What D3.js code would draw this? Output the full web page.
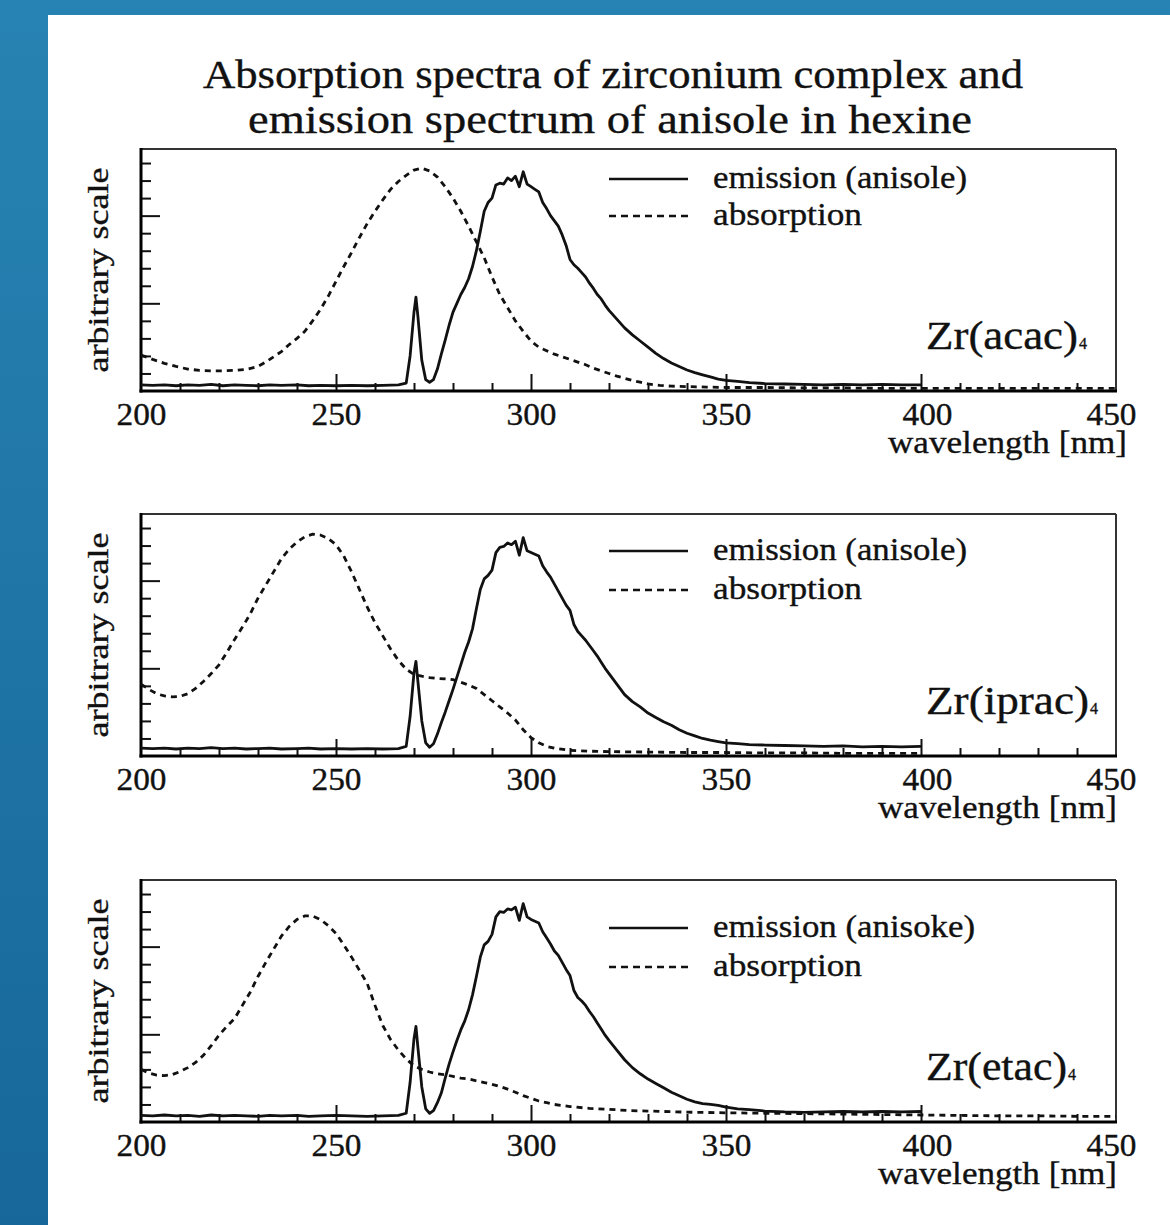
<!DOCTYPE html>
<html>
<head>
<meta charset="utf-8">
<script src="https://cdn.jsdelivr.net/npm/d3@7"></script>
<style>
  html, body { margin: 0; padding: 0; }
  body { width: 1170px; height: 1225px; overflow: hidden; }
  svg { display: block; }
  text { font-family: "Liberation Serif", "Times New Roman", serif; fill: #111; stroke: #111; stroke-width: 0.35px; }
</style>
</head>
<body>
<svg id="chart" width="1170" height="1225"></svg>
<script>
// ---- data -------------------------------------------------------------
const titleLines = [
  "Absorption spectra of zirconium complex and",
  "emission spectrum of anisole in hexine"
];
const xTickValues = [200, 250, 300, 350, 400, 450];
const xAxisTitle = "wavelength [nm]";
const yAxisTitle = "arbitrary scale";
const complexNames = ["Zr(acac)", "Zr(iprac)", "Zr(etac)"];
const complexSubscript = "4";
const emissionLabels = ["emission (anisole)", "emission (anisole)", "emission (anisoke)"];
const absorptionLabel = "absorption";

// emission of anisole, [wavelength nm, intensity]
const emissionAcac = [
  [200,0.07],[203,0.065],[206,0.07],[209,0.06],[212,0.07],[215,0.065],[218,0.075],[221,0.06],
  [224,0.07],[227,0.065],[230,0.06],[233,0.07],[236,0.065],[240,0.07],[243,0.06],[246,0.065],
  [250,0.06],[254,0.065],[258,0.06],[262,0.065],[266,0.07],[268,0.09],[269,0.4],[270,0.9],
  [270.5,1.07],[271,0.85],[272,0.35],[273,0.13],[274,0.1],[275,0.13],[276,0.25],[277,0.42],
  [278,0.58],[279,0.75],[280,0.9],[281,1.0],[282,1.1],[283,1.18],[284,1.28],[285,1.42],
  [286,1.6],[287,1.82],[288,2.05],[289,2.15],[290,2.2],[291,2.35],[292,2.37],[293,2.36],
  [294,2.43],[295,2.4],[296,2.45],[297,2.33],[298,2.5],[299,2.36],[300,2.33],[301,2.3],
  [302,2.27],[303,2.15],[304,2.08],[305,2.0],[306,1.94],[307,1.88],[308,1.78],[309,1.66],
  [310,1.5],[311,1.44],[312,1.4],[313,1.35],[314,1.3],[315,1.23],[316,1.17],[317,1.1],
  [318,1.05],[319,0.98],[320,0.92],[322,0.82],[324,0.72],[326,0.64],[328,0.57],[330,0.5],
  [332,0.43],[334,0.37],[336,0.32],[338,0.28],[340,0.24],[342,0.21],[344,0.185],[346,0.16],
  [348,0.135],[350,0.12],[353,0.11],[356,0.095],[360,0.085],[365,0.08],[370,0.075],[375,0.07],
  [380,0.075],[385,0.07],[390,0.075],[395,0.07],[400,0.07]
];
const emissionIprac = [
  [200,0.09],[203,0.085],[206,0.09],[209,0.08],[212,0.09],[215,0.085],[218,0.095],[221,0.085],
  [224,0.09],[227,0.08],[230,0.085],[233,0.09],[236,0.08],[240,0.085],[243,0.09],[246,0.08],
  [250,0.085],[254,0.08],[258,0.085],[262,0.08],[266,0.085],[268,0.11],[269,0.45],[270,0.95],
  [270.5,1.08],[271,0.85],[272,0.4],[273,0.15],[274,0.1],[275,0.14],[276,0.25],[277,0.38],
  [278,0.5],[279,0.63],[280,0.76],[281,0.9],[282,1.04],[283,1.18],[284,1.3],[285,1.45],
  [286,1.68],[287,1.9],[288,2.02],[289,2.06],[290,2.12],[291,2.32],[292,2.38],[293,2.39],
  [294,2.43],[295,2.41],[296,2.45],[297,2.29],[298,2.49],[299,2.34],[300,2.32],[301,2.3],
  [302,2.28],[303,2.17],[304,2.1],[305,2.04],[306,1.96],[307,1.88],[308,1.8],[309,1.72],
  [310,1.66],[311,1.5],[312,1.42],[313,1.37],[314,1.32],[315,1.26],[316,1.2],[317,1.14],
  [318,1.07],[319,1.0],[320,0.94],[322,0.82],[324,0.7],[326,0.62],[328,0.56],[330,0.49],
  [332,0.44],[334,0.39],[336,0.35],[338,0.3],[340,0.26],[342,0.23],[344,0.2],[346,0.18],
  [348,0.165],[350,0.15],[353,0.14],[356,0.13],[360,0.125],[365,0.12],[370,0.115],[375,0.11],
  [380,0.115],[385,0.105],[390,0.11],[395,0.105],[400,0.11]
];
const emissionEtac = [
  [200,0.075],[203,0.07],[206,0.08],[209,0.07],[212,0.075],[215,0.065],[218,0.08],[221,0.07],
  [224,0.075],[227,0.07],[230,0.065],[233,0.075],[236,0.07],[240,0.075],[243,0.065],[246,0.07],
  [250,0.075],[254,0.07],[258,0.065],[262,0.07],[266,0.075],[268,0.1],[269,0.45],[270,0.95],
  [270.5,1.09],[271,0.85],[272,0.4],[273,0.15],[274,0.1],[275,0.13],[276,0.22],[277,0.33],
  [278,0.5],[279,0.66],[280,0.8],[281,0.93],[282,1.05],[283,1.15],[284,1.28],[285,1.45],
  [286,1.66],[287,1.88],[288,2.02],[289,2.06],[290,2.14],[291,2.34],[292,2.4],[293,2.39],
  [294,2.43],[295,2.42],[296,2.45],[297,2.3],[298,2.49],[299,2.34],[300,2.31],[301,2.29],
  [302,2.27],[303,2.17],[304,2.1],[305,2.03],[306,1.95],[307,1.9],[308,1.82],[309,1.74],
  [310,1.67],[311,1.5],[312,1.42],[313,1.38],[314,1.33],[315,1.26],[316,1.2],[317,1.13],
  [318,1.06],[319,0.99],[320,0.93],[322,0.82],[324,0.71],[326,0.62],[328,0.55],[330,0.49],
  [332,0.44],[334,0.39],[336,0.34],[338,0.3],[340,0.26],[342,0.23],[344,0.21],[346,0.2],
  [348,0.19],[350,0.17],[353,0.15],[356,0.14],[360,0.125],[365,0.115],[370,0.11],[375,0.115],
  [380,0.12],[385,0.115],[390,0.12],[395,0.115],[400,0.12]
];

// absorption of the zirconium complexes, [wavelength nm, absorbance]
const absorptionAcac = [
  [200,0.41],[203,0.36],[206,0.316],[209,0.28],[212,0.25],[215,0.235],[218,0.23],[221,0.23],
  [224,0.235],[227,0.245],[230,0.28],[232,0.33],[234,0.39],[236,0.45],[238,0.53],[240,0.6],
  [242,0.68],[244,0.8],[246,0.93],[248,1.08],[250,1.25],[252,1.42],[254,1.58],[256,1.75],
  [258,1.91],[260,2.05],[262,2.18],[264,2.3],[266,2.39],[268,2.46],[270,2.52],[272,2.54],
  [274,2.51],[276,2.44],[278,2.33],[280,2.2],[282,2.05],[284,1.88],[286,1.7],[288,1.52],
  [290,1.3],[292,1.1],[294,0.95],[296,0.8],[298,0.68],[300,0.57],[302,0.5],[304,0.46],
  [306,0.42],[308,0.39],[310,0.36],[312,0.33],[314,0.3],[316,0.26],[318,0.23],[320,0.2],
  [322,0.17],[324,0.145],[326,0.12],[328,0.1],[330,0.08],[333,0.065],[336,0.055],[340,0.05],
  [345,0.045],[350,0.04],[360,0.04],[370,0.035],[380,0.035],[390,0.03],[400,0.03],[410,0.03],
  [420,0.03],[430,0.03],[440,0.03],[450,0.03]
];
const absorptionIprac = [
  [200,0.82],[202,0.76],[204,0.71],[206,0.685],[208,0.675],[210,0.68],[212,0.71],[214,0.77],
  [216,0.85],[218,0.94],[220,1.04],[222,1.18],[224,1.33],[226,1.47],[228,1.62],[230,1.8],
  [232,1.95],[234,2.1],[236,2.25],[238,2.36],[240,2.44],[242,2.5],[244,2.53],[246,2.52],
  [248,2.48],[250,2.41],[252,2.28],[254,2.1],[256,1.9],[258,1.7],[260,1.52],[262,1.37],
  [264,1.22],[266,1.09],[268,0.99],[270,0.93],[272,0.91],[274,0.895],[276,0.885],[278,0.88],
  [280,0.87],[282,0.84],[284,0.81],[286,0.77],[288,0.7],[290,0.63],[292,0.56],[294,0.49],
  [296,0.41],[298,0.3],[300,0.21],[302,0.15],[304,0.11],[306,0.09],[310,0.065],[315,0.055],
  [320,0.05],[330,0.045],[340,0.04],[350,0.04],[360,0.035],[370,0.035],[380,0.03],[390,0.03],
  [400,0.03]
];
const absorptionEtac = [
  [200,0.6],[202,0.56],[204,0.535],[206,0.528],[208,0.54],[210,0.575],[212,0.62],[214,0.68],
  [216,0.76],[218,0.87],[220,0.99],[222,1.09],[224,1.18],[226,1.33],[228,1.48],[230,1.66],
  [232,1.82],[234,1.97],[236,2.12],[238,2.23],[240,2.31],[242,2.35],[244,2.35],[246,2.31],
  [248,2.24],[250,2.15],[252,2.02],[254,1.88],[256,1.73],[258,1.58],[260,1.33],[262,1.1],
  [264,0.94],[266,0.82],[268,0.72],[270,0.64],[272,0.6],[274,0.57],[276,0.55],[278,0.54],
  [280,0.52],[282,0.5],[284,0.49],[286,0.47],[288,0.45],[290,0.43],[292,0.405],[294,0.375],
  [296,0.34],[298,0.3],[300,0.27],[302,0.24],[304,0.22],[306,0.2],[310,0.176],[315,0.155],
  [320,0.145],[325,0.13],[330,0.125],[340,0.112],[350,0.105],[360,0.1],[370,0.095],[380,0.09],
  [390,0.085],[400,0.08],[410,0.075],[420,0.07],[430,0.07],[440,0.065],[450,0.065]
];

const emissionSeries = [emissionAcac, emissionIprac, emissionEtac];
const absorptionSeries = [absorptionAcac, absorptionIprac, absorptionEtac];

// ---- layout -----------------------------------------------------------
const W = 1170, H = 1225;
const plotLeft = 141, plotRight = 1116, plotHeight = 242;
const panelTops = [149, 514, 880];
const legendOffsets = [[30, 67], [37, 76], [48, 87]];   // solid / dashed legend rows below frame top
const xTitleRight = [1127, 1117, 1117];
const nameWidths = [152, 163, 141];
const yMax = 2.76;

const svg = d3.select("#chart");

// backdrop
const defs = svg.append("defs");
const grad = defs.append("linearGradient").attr("id", "bg").attr("x1", 0).attr("y1", 0).attr("x2", 0).attr("y2", 1);
grad.append("stop").attr("offset", "0%").attr("stop-color", "#2783b3");
grad.append("stop").attr("offset", "100%").attr("stop-color", "#17679a");
svg.append("rect").attr("width", W).attr("height", H).attr("fill", "url(#bg)");
svg.append("rect").attr("x", 48).attr("y", 15).attr("width", W - 48).attr("height", H - 15).attr("fill", "#fff");

// helper for text stretched to a given width
function fitText(sel, width) {
  return sel.attr("textLength", width).attr("lengthAdjust", "spacingAndGlyphs");
}

// title
fitText(svg.append("text").attr("x", 203).attr("y", 88).attr("font-size", 39), 820).text(titleLines[0]);
fitText(svg.append("text").attr("x", 248).attr("y", 133).attr("font-size", 39), 724).text(titleLines[1]);

const x = d3.scaleLinear().domain([200, 450]).range([plotLeft, plotRight]);
const minorX = d3.range(210, 450, 10).filter(v => v % 50 !== 0);
const majorX = [250, 300, 350, 400];
const minorY = d3.range(1, 14).map(i => +(i * 0.2).toFixed(1)).filter(v => v !== 1 && v !== 2);
const majorY = [1, 2];

complexNames.forEach((name, i) => {
  const top = panelTops[i], bottom = top + plotHeight;
  const y = d3.scaleLinear().domain([0, yMax]).range([bottom, top]);
  const g = svg.append("g");

  const tickStyle = sel => {
    sel.select(".domain").remove();
    sel.selectAll("line").attr("stroke", "#111").attr("stroke-width", 2);
  };

  // x ticks pointing inward
  g.append("g").attr("transform", `translate(0,${bottom})`)
    .call(d3.axisTop(x).tickValues(minorX).tickSize(8).tickFormat("")).call(tickStyle);
  g.append("g").attr("transform", `translate(0,${bottom})`)
    .call(d3.axisTop(x).tickValues(majorX).tickSize(17).tickFormat("")).call(tickStyle);
  // y ticks pointing inward
  g.append("g").attr("transform", `translate(${plotLeft},0)`)
    .call(d3.axisRight(y).tickValues(minorY).tickSize(10).tickFormat("")).call(tickStyle);
  g.append("g").attr("transform", `translate(${plotLeft},0)`)
    .call(d3.axisRight(y).tickValues(majorY).tickSize(19).tickFormat("")).call(tickStyle);

  // x tick labels
  const labels = g.append("g").attr("transform", `translate(0,${bottom})`)
    .call(d3.axisBottom(x).tickValues(xTickValues).tickSize(0).tickFormat(d3.format("d")));
  labels.select(".domain").remove();
  labels.selectAll("text")
    .attr("y", 34).attr("dy", 0)
    .attr("dx", d => d === 400 ? 6 : d === 450 ? -5 : 0)
    .attr("font-size", 31).attr("font-family", "Liberation Serif, serif").attr("fill", "#111")
    .attr("textLength", 50).attr("lengthAdjust", "spacingAndGlyphs");

  // frame
  g.append("line").attr("x1", plotLeft).attr("x2", plotRight).attr("y1", top).attr("y2", top)
    .attr("stroke", "#333").attr("stroke-width", 2);
  g.append("line").attr("x1", plotRight).attr("x2", plotRight).attr("y1", top).attr("y2", bottom)
    .attr("stroke", "#333").attr("stroke-width", 2);
  g.append("line").attr("x1", plotLeft).attr("x2", plotLeft).attr("y1", top - 1).attr("y2", bottom + 1.5)
    .attr("stroke", "#000").attr("stroke-width", 3);
  g.append("line").attr("x1", plotLeft - 1.5).attr("x2", plotRight + 1).attr("y1", bottom).attr("y2", bottom)
    .attr("stroke", "#000").attr("stroke-width", 3);

  // curves
  const line = d3.line().x(d => x(d[0])).y(d => y(d[1]));
  g.append("path").datum(absorptionSeries[i]).attr("d", line)
    .attr("fill", "none").attr("stroke", "#111").attr("stroke-width", 2.8)
    .attr("stroke-dasharray", "6,5");
  g.append("path").datum(emissionSeries[i]).attr("d", line)
    .attr("fill", "none").attr("stroke", "#111").attr("stroke-width", 2.8)
    .attr("stroke-linejoin", "round");

  // legend
  const [solidY, dashY] = legendOffsets[i].map(o => top + o);
  g.append("line").attr("x1", 609).attr("x2", 688).attr("y1", solidY).attr("y2", solidY)
    .attr("stroke", "#111").attr("stroke-width", 2.4);
  g.append("line").attr("x1", 609).attr("x2", 688).attr("y1", dashY).attr("y2", dashY)
    .attr("stroke", "#111").attr("stroke-width", 2.4).attr("stroke-dasharray", "7,5");
  fitText(g.append("text").attr("x", 713).attr("y", solidY + 9).attr("font-size", 31),
    i === 2 ? 262 : 254).text(emissionLabels[i]);
  fitText(g.append("text").attr("x", 713).attr("y", dashY + 9).attr("font-size", 31), 149)
    .text(absorptionLabel);

  // complex name with subscript
  fitText(g.append("text").attr("x", 926).attr("y", top + 200).attr("font-size", 39), nameWidths[i])
    .text(name);
  g.append("text").attr("x", 926 + nameWidths[i] + 1).attr("y", top + 200).attr("font-size", 16)
    .text(complexSubscript);

  // axis titles
  fitText(g.append("text").attr("x", xTitleRight[i] - 239).attr("y", bottom + 62).attr("font-size", 32), 239)
    .text(xAxisTitle);
  fitText(g.append("text").attr("transform", `translate(108,${(top + bottom) / 2}) rotate(-90)`)
    .attr("font-size", 30).attr("text-anchor", "middle"), 205).text(yAxisTitle);
});
</script>
</body>
</html>
